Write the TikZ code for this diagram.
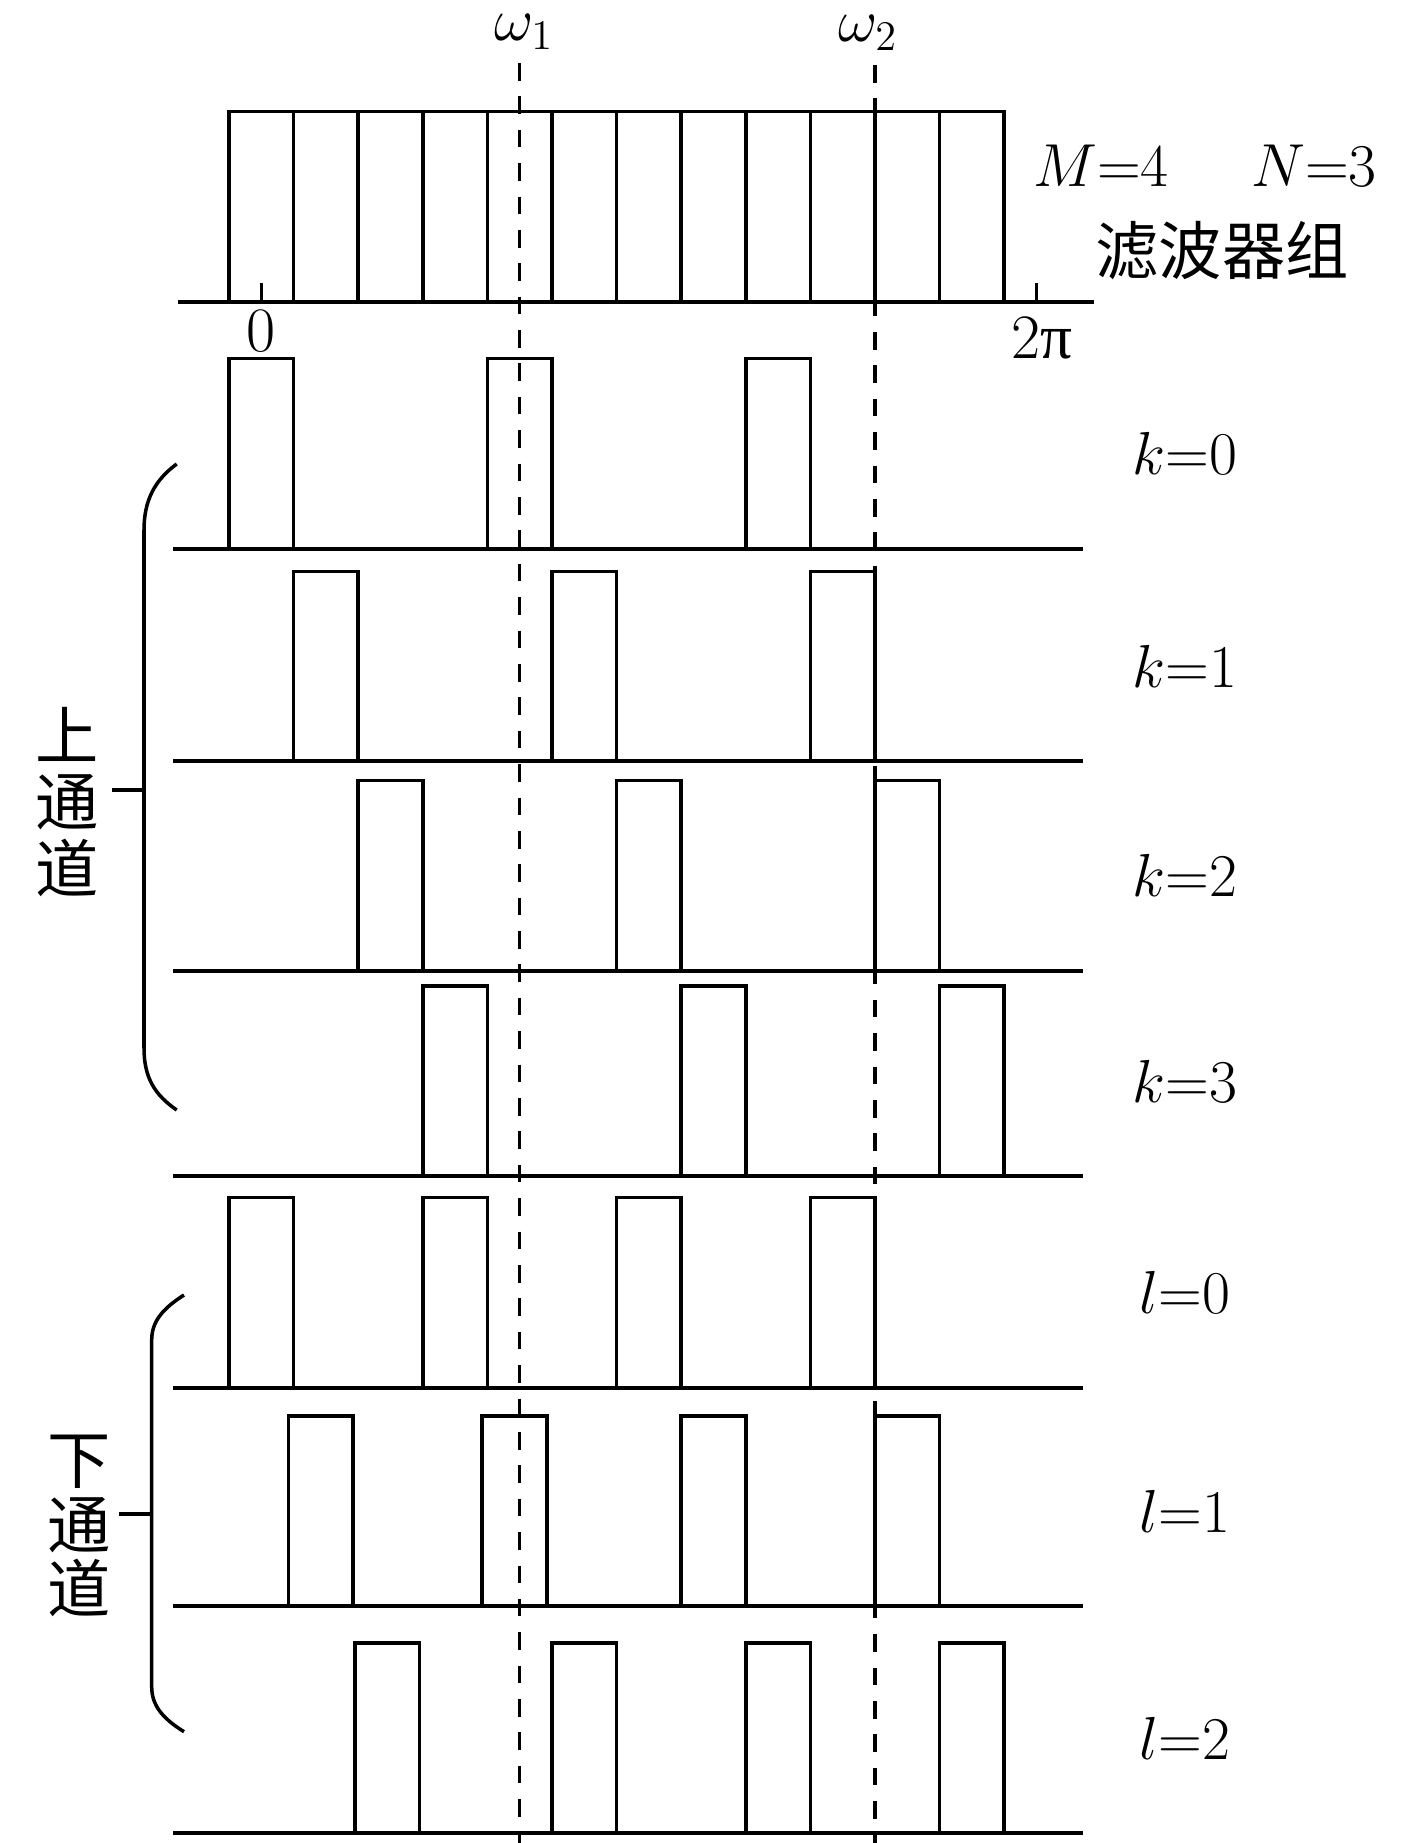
\documentclass[tikz,border=0pt]{standalone}
\usepackage{fontspec}
\newfontfamily\cjkfont{Noto Sans CJK SC}
\newfontfamily\grkfont{Liberation Serif}
\usetikzlibrary{positioning}
\tikzset{
  fb/band/.style={draw=black, line width=1pt},
  fb/axis/.style={draw=black, line width=1.1pt},
  fb/freq/.style={draw=black, line width=0.95pt, dash pattern=on 5pt off 4.5pt},
  fb/brace/.style={draw=black, line width=1pt},
  fb/label/.style={font=\fontsize{18}{20}\selectfont, inner sep=0pt},
  fb/cjk/.style={font=\fontsize{18}{18.4}\selectfont\cjkfont, align=center, inner sep=0pt}
}
\newcommand{\bandw}{0.646}
\newcommand{\bandx}{2.29}

\begin{document}
\begin{tikzpicture}[x=1cm,y=1cm]
  \useasboundingbox (0,0) rectangle (14.17,-18.43);

  % filter bank
  \draw[fb/axis] (1.78,-3.017) -- (10.94,-3.017);
  \foreach \b in {0,...,11}
    \draw[fb/band] (\bandx+\b*\bandw,-3.017) rectangle ++(\bandw,1.9);
  \draw[fb/band] (\bandx+0.5*\bandw,-3.017) -- ++(0,0.19);
  \draw[fb/band] (\bandx+12.5*\bandw,-3.017) -- ++(0,0.19);
  \node[fb/label] (zero) at (2.61,-3.31) {0};
  \node[fb/label] (twopi) at (10.42,-3.38) {2{\grkfont π}};
  \node[fb/label] (mn) at (12.05,-1.655) {$M{=}4$\hspace{1.3em}$N{=}3$};
  \node[fb/cjk] (bank) at (12.22,-2.51) {滤波器组};

  % channels
  \foreach \base/\bands/\name/\lab in {
      -5.487/{0,4,8}/k0/{$k{=}0$},
      -7.614/{1,5,9}/k1/{$k{=}1$},
      -9.706/{2,6,10}/k2/{$k{=}2$},
      -11.76/{3,7,11}/k3/{$k{=}3$},
      -13.877/{0,3,6,9}/l0/{$l{=}0$},
      -16.06/{0.92,3.92,7,10}/l1/{$l{=}1$},
      -18.33/{1.95,5,8,11}/l2/{$l{=}2$}}
  {
    \draw[fb/axis] (1.73,\base) -- (10.83,\base);
    \foreach \b in \bands
      \draw[fb/band] (\bandx+\b*\bandw,\base) rectangle ++(\bandw,1.9);
    \node[fb/label] (lab-\name) at (11.85,\base+0.95) {\lab};
  }

  % frequencies
  \node[fb/label] (w1) at (5.24,-0.32) {$\omega_1$};
  \node[fb/label] (w2) at (8.68,-0.33) {$\omega_2$};
  \coordinate (w1top) at (\bandx+4.5*\bandw,-0.63);
  \coordinate (w1bot) at (\bandx+4.5*\bandw,-18.43);
  \coordinate (w2top) at (\bandx+10*\bandw,-0.65);
  \coordinate (w2bot) at (\bandx+10*\bandw,-18.43);
  \draw[fb/freq] (w1top) -- (w1bot);
  \draw[fb/freq] (w2top) -- (w2bot);

  % upper channel brace
  \coordinate (ubr) at (1.44,-7.9);
  \draw[fb/brace] (1.767,-4.64) .. controls (1.55,-4.8) and (1.44,-5.0) .. (1.44,-5.3)
    -- (1.44,-10.48) .. controls (1.44,-10.78) and (1.55,-10.95) .. (1.767,-11.1);
  \draw[fb/brace] (ubr) -- ++(-0.323,0);
  \node[fb/cjk, font=\fontsize{18}{18.8}\selectfont\cjkfont] (upper) at (0.67,-8.02) {上\\通\\道};

  % lower channel brace
  \coordinate (lbr) at (1.517,-15.14);
  \draw[fb/brace] (1.84,-12.95) .. controls (1.62,-13.09) and (1.517,-13.22) .. (1.517,-13.40)
    -- (1.517,-16.867) .. controls (1.517,-17.05) and (1.62,-17.18) .. (1.84,-17.317);
  \draw[fb/brace] (lbr) -- ++(-0.327,0);
  \node[fb/cjk] (lower) at (0.79,-15.26) {下\\通\\道};
\end{tikzpicture}
\end{document}
